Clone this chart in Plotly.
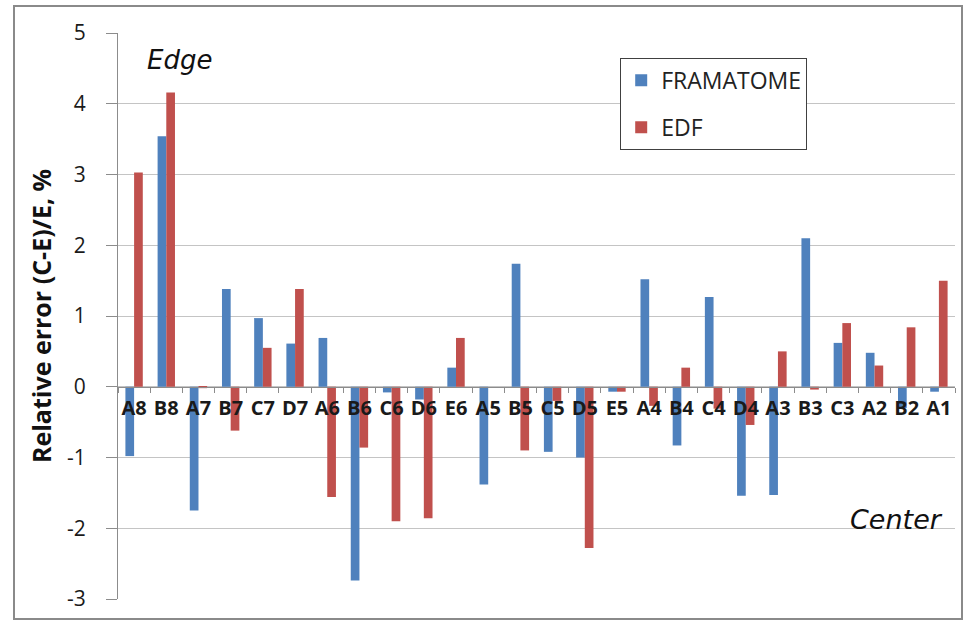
import plotly.graph_objects as go

categories = ["A8", "B8", "A7", "B7", "C7", "D7", "A6", "B6", "C6", "D6", "E6",
              "A5", "B5", "C5", "D5", "E5", "A4", "B4", "C4", "D4", "A3", "B3",
              "C3", "A2", "B2", "A1"]
framatome = [-0.98, 3.54, -1.75, 1.38, 0.97, 0.61, 0.69, -2.74, -0.08, -0.18, 0.27,
             -1.38, 1.74, -0.92, -1.00, -0.07, 1.52, -0.83, 1.27, -1.54, -1.53, 2.10,
             0.62, 0.48, -0.30, -0.07]
edf = [3.03, 4.16, -0.02, -0.62, 0.55, 1.38, -1.56, -0.86, -1.90, -1.86, 0.69,
       0.00, -0.90, -0.20, -2.28, -0.07, -0.27, 0.27, -0.31, -0.54, 0.50, -0.04,
       0.90, 0.30, 0.84, 1.50]
y_ticks = [-3, -2, -1, 0, 1, 2, 3, 4, 5]
y_tick_text = ["-3", "-2", "-1", "0", "1", "2", "3", "4", "5"]

BLUE = "#4F81BD"
RED = "#C0504D"
FONT = "Open Sans"

fig = go.Figure()
fig.add_trace(go.Bar(x=categories, y=framatome, name="FRAMATOME",
                     marker=dict(color=BLUE, line=dict(width=0)), legendgroup="f"))
fig.add_trace(go.Bar(x=categories, y=edf, name="EDF",
                     marker=dict(color=RED, line=dict(width=0)), legendgroup="e"))

fig.update_layout(
    width=969, height=624,
    margin=dict(l=118, r=14, t=33, b=23),
    paper_bgcolor="white", plot_bgcolor="white",
    barmode="group", bargap=0.46, bargroupgap=0,
    font=dict(family=FONT, color="#222222"),
    showlegend=True,
    legend=dict(x=0.6, y=0.956, xanchor="left", yanchor="top",
                bgcolor="white", bordercolor="#404040", borderwidth=1,
                font=dict(family=FONT, size=23, color="#222222"),
                traceorder="grouped", tracegroupgap=14,
                itemwidth=30),
    xaxis=dict(
        type="category", anchor="free", position=0.375,
        showline=True, linecolor="#8c8c8c", linewidth=1,
        ticks="outside", tickson="boundaries", ticklen=5, tickcolor="#8c8c8c",
        showgrid=False, tickangle=0, ticklabelstandoff=3,
        tickfont=dict(family=FONT, size=20, color="#1a1a1a", weight="bold"),
        range=[-0.5, len(categories) - 0.5],
    ),
    yaxis=dict(
        range=[-3, 5], tickvals=y_ticks, ticktext=y_tick_text,
        showline=True, linecolor="#8c8c8c", linewidth=1,
        ticks="outside", ticklen=11, tickcolor="#8c8c8c",
        ticklabelstandoff=16,
        showgrid=True, gridcolor="#c4c4c4", gridwidth=1,
        zeroline=False,
        tickfont=dict(family=FONT, size=21, color="#1a1a1a"),
        title=dict(text="<b>Relative error (C-E)/E, %</b>",
                   font=dict(family=FONT, size=25, color="#111111"),
                   standoff=8),
    ),
)

fig.add_annotation(text="Edge", xref="paper", yref="paper", x=0.032, y=0.952,
                   xanchor="left", yanchor="middle", showarrow=False,
                   font=dict(family="DejaVu Sans", size=26, color="#111111",
                             style="italic"))
fig.add_annotation(text="Center", xref="paper", yref="paper", x=0.988, y=0.141,
                   xanchor="right", yanchor="middle", showarrow=False,
                   font=dict(family="DejaVu Sans", size=27, color="#111111",
                             style="italic"))

# outer frame of the chart
fig.add_shape(type="rect", xref="paper", yref="paper",
              x0=(14 - 118) / 837, x1=(962 - 118) / 837,
              y0=(601 - 621) / 568, y1=(601 - 6) / 568,
              line=dict(color="#8a8a8a", width=2), fillcolor="rgba(0,0,0,0)",
              layer="below")

fig.write_html("out.html")
